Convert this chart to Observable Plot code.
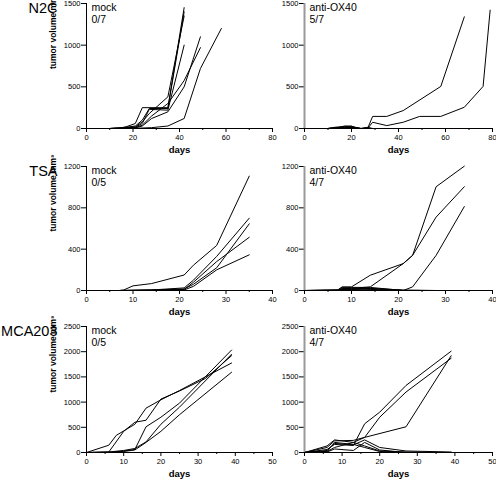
<!DOCTYPE html>
<html><head><meta charset="utf-8">
<script src="https://cdn.jsdelivr.net/npm/d3@7"></script>
<script src="https://cdn.jsdelivr.net/npm/@observablehq/plot@0.6"></script>
<style>
html,body{margin:0;padding:0;background:#fff;}
#chart{position:relative;width:496px;height:479px;overflow:hidden;font-family:"Liberation Sans",Arial,sans-serif;}
#chart > div{position:absolute;}
</style></head><body><div id="chart"></div>
<script>
// ---- data: each mouse is a list of [day, tumor volume mm3] ----
const n2cMock = [
  [[10,0],[14,5],[17,20],[21,60],[24,250],[35,250],[42,1450]],
  [[10,0],[14,5],[17,15],[21,30],[24,100],[27,240],[35,240],[42,1400]],
  [[10,0],[14,3],[17,10],[21,20],[24,80],[27,180],[35,380],[42,1350]],
  [[10,0],[17,8],[21,15],[24,60],[27,230],[35,220],[42,1000]],
  [[10,0],[17,5],[21,10],[24,40],[28,150],[35,300],[42,575],[49,970]],
  [[10,0],[17,3],[21,8],[24,30],[28,120],[35,200],[42,500],[49,1100]],
  [[10,0],[21,3],[28,10],[35,30],[42,120],[49,720],[58,1200]]
];
const n2cOX40 = [
  [[10,0],[17,10],[20,5],[24,0],[27,10],[29,145],[35,145],[42,215],[58,505],[68,1340]],
  [[10,0],[17,5],[20,10],[24,0],[27,5],[29,75],[35,35],[42,75],[49,145],[58,145],[68,255],[76,505],[79,1420]],
  [[10,0],[13,15],[17,25],[20,20],[24,0]],
  [[10,0],[14,8],[17,30],[20,30],[22,5],[24,0]],
  [[10,0],[13,5],[17,10],[20,25],[24,0],[27,15],[29,0]],
  [[10,0],[17,15],[20,10],[24,0],[27,0]],
  [[12,0],[17,5],[20,15],[22,0]]
];
const tsaMock = [
  [[0,0],[7,0],[8,5],[10,45],[14,67],[21,150],[23,245],[28,436],[35,1107]],
  [[0,0],[7,0],[14,5],[21,25],[23,100],[28,330],[35,700]],
  [[0,0],[7,0],[14,5],[21,15],[23,60],[28,220],[35,645]],
  [[0,0],[7,0],[14,3],[21,10],[23,80],[28,280],[35,515]],
  [[0,0],[7,0],[14,2],[21,5],[23,40],[28,200],[35,345]]
];
const tsaOX40 = [
  [[0,0],[7,0],[8,35],[10,35],[14,148],[21,260],[23,340],[28,1004],[34,1203]],
  [[0,0],[7,0],[8,10],[10,20],[14,35],[21,260],[23,340],[28,710],[34,1004]],
  [[0,0],[7,0],[8,15],[10,10],[14,20],[21,0],[23,35],[28,340],[34,812]],
  [[0,0],[7,5],[8,30],[10,30],[14,30],[21,0],[28,0],[34,0]],
  [[0,0],[7,0],[8,20],[10,15],[14,20],[21,5],[28,0],[34,0]],
  [[0,0],[7,5],[8,10],[10,25],[14,10],[21,0]],
  [[0,0],[8,5],[10,10],[14,5],[21,0],[34,0]]
];
const mcaMock = [
  [[0,0],[6,145],[8,340],[13,560],[16,880],[20,1045],[25,1230],[39,1776]],
  [[0,0],[6,10],[10,420],[13,600],[16,640],[20,1060],[25,1220],[32,1470],[39,1921]],
  [[0,0],[6,0],[10,30],[13,60],[16,510],[20,700],[25,980],[39,2033]],
  [[0,0],[6,10],[10,40],[13,80],[16,210],[20,560],[25,900],[39,1950]],
  [[0,0],[6,5],[10,20],[13,50],[16,200],[20,420],[25,750],[39,1592]]
];
const mcaOX40 = [
  [[0,0],[6,60],[8,160],[13,140],[16,570],[20,800],[27,1330],[39,2010]],
  [[0,0],[6,100],[8,230],[13,240],[16,300],[20,700],[27,1200],[39,1870]],
  [[0,0],[6,20],[8,100],[13,200],[16,300],[27,510],[39,1920]],
  [[0,0],[6,130],[8,250],[13,200],[16,130],[20,30],[27,10],[39,0]],
  [[0,0],[6,40],[8,180],[13,150],[16,250],[20,100],[27,30],[39,10]],
  [[0,0],[6,10],[8,70],[13,40],[16,200],[20,50],[27,0]],
  [[0,0],[6,20],[8,200],[13,160],[16,100],[20,20],[27,0],[39,0]]
];
// tick labels
const n2cXTicks = [0,20,40,60,80];
const n2cYTicks = [0,500,1000,1500];
const tsaXTicks = [0,10,20,30,40];
const tsaYTicks = [0,400,800,1200];
const mcaXTicks = [0,10,20,30,40,50];
const mcaYTicks = [0,500,1000,1500,2000,2500];
const tumorNames = ["N2C","TSA","MCA203"];
const groupNames = ["mock","anti-OX40"];
const n2cScores = ["0/7","5/7"];
const tsaScores = ["0/5","4/7"];
const mcaScores = ["0/5","4/7"];

const FONT = '"Liberation Sans", Arial, Helvetica, sans-serif';
const rows = [
  {name:tumorNames[0], top:0,   height:162, mt:3, mb:34, xTicks:n2cXTicks, yTicks:n2cYTicks, scores:n2cScores, series:[n2cMock,n2cOX40]},
  {name:tumorNames[1], top:162, height:162, mt:4, mb:34, xTicks:tsaXTicks, yTicks:tsaYTicks, scores:tsaScores, series:[tsaMock,tsaOX40]},
  {name:tumorNames[2], top:324, height:155, mt:2, mb:27, xTicks:mcaXTicks, yTicks:mcaYTicks, scores:mcaScores, series:[mcaMock,mcaOX40]}
];
const cols = [
  {left:0,   width:276, ml:86, mr:4},
  {left:276, width:220, ml:28, mr:4}
];

function tidy(series) {
  const out = [];
  series.forEach((m, i) => m.forEach(([day, vol]) => out.push({mouse:i, day, vol})));
  return out;
}
const plain = d => String(d);

const chart = document.getElementById("chart");
rows.forEach(row => {
  cols.forEach((col, ci) => {
    const xt = row.xTicks, yt = row.yTicks;
    const step = xt[1] - xt[0];
    const minor = xt.slice(0, -1).map(v => v + step / 2);
    const isLeft = ci === 0;
    const marks = [
      Plot.axisX({ticks: minor, tickSize: 2, tickFormat: () => "", label: null}),
      Plot.axisX({ticks: xt, tickSize: 4, tickPadding: 2, tickFormat: plain, label: null, fontSize: 7.5}),
      Plot.axisY({ticks: yt, tickSize: 5, tickPadding: 1, tickFormat: plain, label: null, fontSize: 7.5}),
      Plot.ruleY([0], {stroke: "#000", strokeWidth: 1}),
      Plot.ruleX([0], isLeft ? {stroke: "#000", strokeWidth: 1} : {stroke: "#999", strokeWidth: 2}),
      Plot.line(tidy(row.series[ci]), {x: "day", y: "vol", z: "mouse", stroke: "#000", strokeWidth: 1}),
      Plot.text([groupNames[ci] + "\n" + row.scores[ci]], {text: d => d, frameAnchor: "top-left", dx: 5, dy: -1, textAnchor: "start", lineAnchor: "top", fontSize: 10.5, lineHeight: 1.15}),
      Plot.text(["days"], {text: d => d, frameAnchor: "bottom", dy: 21, lineAnchor: "middle", fontWeight: "bold", fontSize: 9.5})
    ];
    if (isLeft) {
      marks.push(Plot.text(["tumor volume mm³"], {text: d => d, frameAnchor: "left", dx: -33, dy: 3, rotate: -90, fontWeight: "bold", fontSize: 8.5}));
      marks.push(Plot.text([row.name], {text: d => d, frameAnchor: "top-left", dx: -29, dy: -1, textAnchor: "end", lineAnchor: "top", fontSize: 14.5}));
    }
    const p = Plot.plot({
      width: col.width, height: row.height,
      marginLeft: col.ml, marginRight: col.mr, marginTop: row.mt, marginBottom: row.mb,
      style: {fontFamily: FONT, fontSize: "7.5px", color: "#000", background: "transparent", overflow: "visible"},
      x: {domain: [0, xt[xt.length - 1]]},
      y: {domain: [0, yt[yt.length - 1]]},
      marks
    });
    const div = document.createElement("div");
    div.style.left = col.left + "px";
    div.style.top = row.top + "px";
    div.appendChild(p);
    chart.appendChild(div);
  });
});
</script></body></html>
